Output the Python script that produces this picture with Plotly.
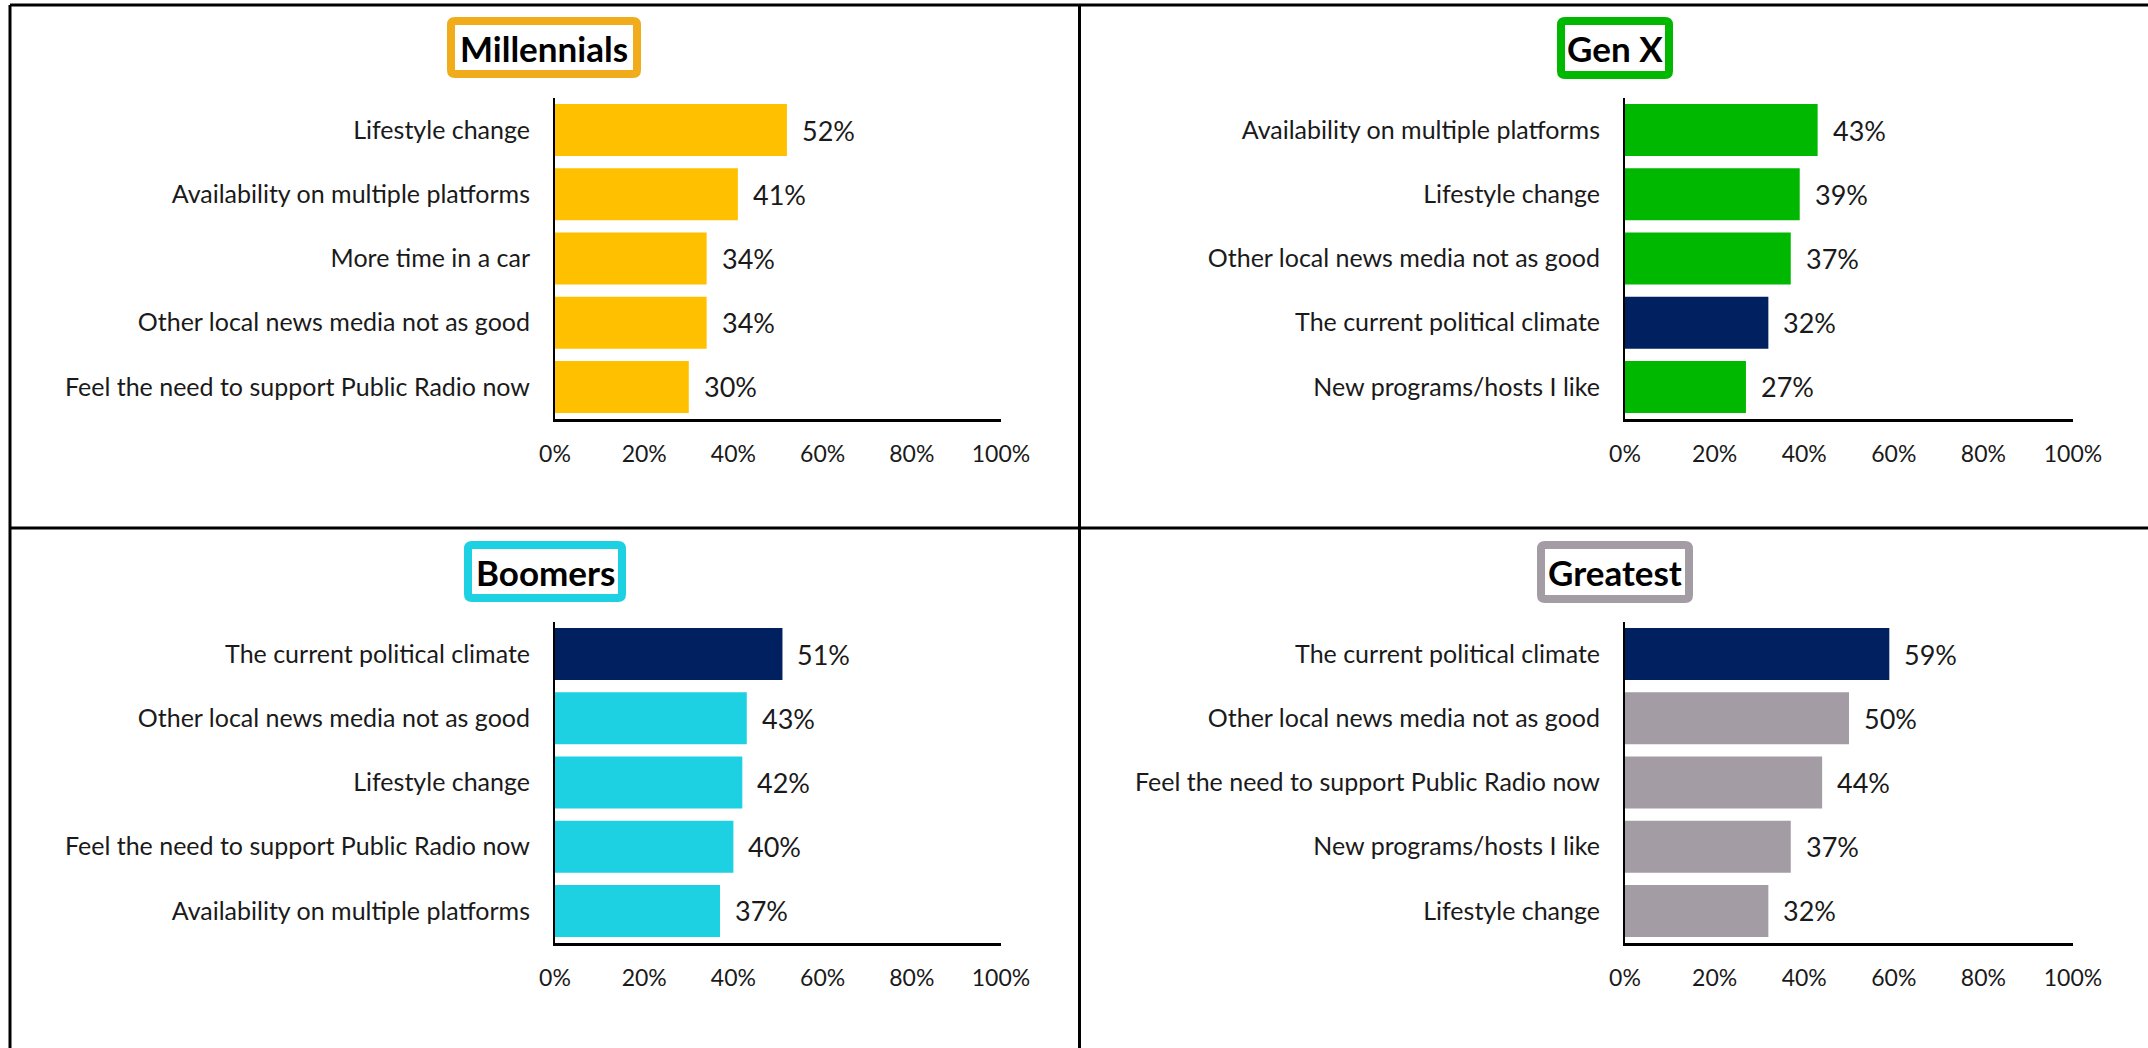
import plotly.graph_objects as go

W, H = 2148, 1048
FONT = "Lato, 'Noto Sans', sans-serif"

# ---------------- data ----------------
mill_cats = ["Lifestyle change", "Availability on multiple platforms", "More time in a car",
             "Other local news media not as good", "Feel the need to support Public Radio now"]
mill_vals = [0.52, 0.41, 0.34, 0.34, 0.30]

genx_cats = ["Availability on multiple platforms", "Lifestyle change", "Other local news media not as good",
             "The current political climate", "New programs/hosts I like"]
genx_vals = [0.43, 0.39, 0.37, 0.32, 0.27]

boom_cats = ["The current political climate", "Other local news media not as good", "Lifestyle change",
             "Feel the need to support Public Radio now", "Availability on multiple platforms"]
boom_vals = [0.51, 0.43, 0.42, 0.40, 0.37]

great_cats = ["The current political climate", "Other local news media not as good",
              "Feel the need to support Public Radio now", "New programs/hosts I like", "Lifestyle change"]
great_vals = [0.59, 0.50, 0.44, 0.37, 0.32]

tick_vals = [0, 0.2, 0.4, 0.6, 0.8, 1.0]
tick_text = ["0%", "20%", "40%", "60%", "80%", "100%"]

titles = ["Millennials", "Gen X", "Boomers", "Greatest"]
NAVY = "#002060"
HIGHLIGHT = "The current political climate"

# ---------------- style / layout ----------------
panels = [
    dict(title=titles[0], cats=mill_cats, vals=mill_vals, color="#FFC000", box="#F0AC1A",
         xd=(555, 1001), yd=(98, 419), boxpx=(447, 641, 17, 78)),
    dict(title=titles[1], cats=genx_cats, vals=genx_vals, color="#00B800", box="#00B800",
         xd=(1625, 2073), yd=(98, 419), boxpx=(1557, 1673, 17, 79)),
    dict(title=titles[2], cats=boom_cats, vals=boom_vals, color="#1DD1E2", box="#1DD1E2",
         xd=(555, 1001), yd=(622, 943), boxpx=(464, 626, 541, 602)),
    dict(title=titles[3], cats=great_cats, vals=great_vals, color="#A39CA4", box="#A39CA4",
         xd=(1625, 2073), yd=(622, 943), boxpx=(1537, 1693, 541, 603)),
]


def px(x):
    return x / W


def py(y):
    return 1 - y / H


def rounded_rect(x0, x1, y0, y1, r):
    """SVG path (paper coords) for a rectangle with rounded corners, given pixel edges."""
    pts = [
        f"M {px(x0 + r)},{py(y0)}",
        f"L {px(x1 - r)},{py(y0)}",
        f"Q {px(x1)},{py(y0)} {px(x1)},{py(y0 + r)}",
        f"L {px(x1)},{py(y1 - r)}",
        f"Q {px(x1)},{py(y1)} {px(x1 - r)},{py(y1)}",
        f"L {px(x0 + r)},{py(y1)}",
        f"Q {px(x0)},{py(y1)} {px(x0)},{py(y1 - r)}",
        f"L {px(x0)},{py(y0 + r)}",
        f"Q {px(x0)},{py(y0)} {px(x0 + r)},{py(y0)}",
        "Z",
    ]
    return " ".join(pts)


fig = go.Figure()
layout = dict(
    template="none",
    width=W, height=H, autosize=False,
    margin=dict(l=0, r=0, t=0, b=0, pad=0),
    paper_bgcolor="white", plot_bgcolor="white",
    showlegend=False, bargap=0.19,
    font=dict(family=FONT, color="#1a1a1a"),
)
annotations = []
shapes = []

for i, p in enumerate(panels):
    n = "" if i == 0 else str(i + 1)
    xa, ya = "x" + n, "y" + n
    colors = [NAVY if c == HIGHLIGHT else p["color"] for c in p["cats"]]
    fig.add_trace(go.Bar(
        x=p["vals"], y=p["cats"], orientation="h", marker=dict(color=colors, line=dict(width=0)),
        xaxis=xa, yaxis=ya, hoverinfo="skip",
    ))
    layout["xaxis" + n] = dict(
        domain=[px(p["xd"][0]), px(p["xd"][1])], anchor=ya, range=[0, 1],
        tickvals=tick_vals, ticktext=tick_text, showgrid=False, zeroline=False,
        showline=True, linecolor="black", linewidth=3, ticks="", automargin=False,
        ticklabelstandoff=12, tickfont=dict(size=23, family=FONT, color="#1a1a1a"),
        fixedrange=True,
    )
    layout["yaxis" + n] = dict(
        domain=[py(p["yd"][1]), py(p["yd"][0])], anchor=xa, type="category",
        categoryorder="array", categoryarray=p["cats"], range=[4.5, -0.5],
        showgrid=False, zeroline=False, showline=True, linecolor="black", linewidth=2,
        ticks="", automargin=False, ticklabelstandoff=18,
        tickfont=dict(size=25, family=FONT, color="#1a1a1a"),
        fixedrange=True,
    )
    for c, v in zip(p["cats"], p["vals"]):
        annotations.append(dict(
            x=v, y=c, xref=xa, yref=ya, text=f"{round(v * 100)}%", showarrow=False,
            xanchor="left", yanchor="middle", xshift=13,
            font=dict(size=27, family=FONT, color="#1a1a1a"),
        ))
    x0, x1, y0, y1 = p["boxpx"]
    shapes.append(dict(
        type="path", xref="paper", yref="paper",
        path=rounded_rect(x0 + 4, x1 - 4, y0 + 4, y1 - 4, 4),
        line=dict(color=p["box"], width=8), fillcolor="white", layer="above",
    ))
    annotations.append(dict(
        x=px((x0 + x1) / 2), y=py((y0 + y1) / 2), xref="paper", yref="paper",
        text=f"<b>{p['title']}</b>", showarrow=False, xanchor="center", yanchor="middle",
        font=dict(size=35, family=FONT, color="black"),
    ))

# panel frame lines
frame = [
    (10, 5, 2148, 5),        # top
    (10, 5, 10, 1048),       # left
    (1079.5, 5, 1079.5, 1048),  # middle vertical
    (10, 528, 2148, 528),    # middle horizontal
]
for (a, b, c, d) in frame:
    shapes.append(dict(type="line", xref="paper", yref="paper",
                       x0=px(a), y0=py(b), x1=px(c), y1=py(d),
                       line=dict(color="black", width=3)))

layout["annotations"] = annotations
layout["shapes"] = shapes
fig.update_layout(**layout)
fig.write_html(
    "out.html",
    config=dict(displayModeBar=False, responsive=False),
    post_script="document.body.style.margin='0';document.body.style.overflow='hidden';",
)
